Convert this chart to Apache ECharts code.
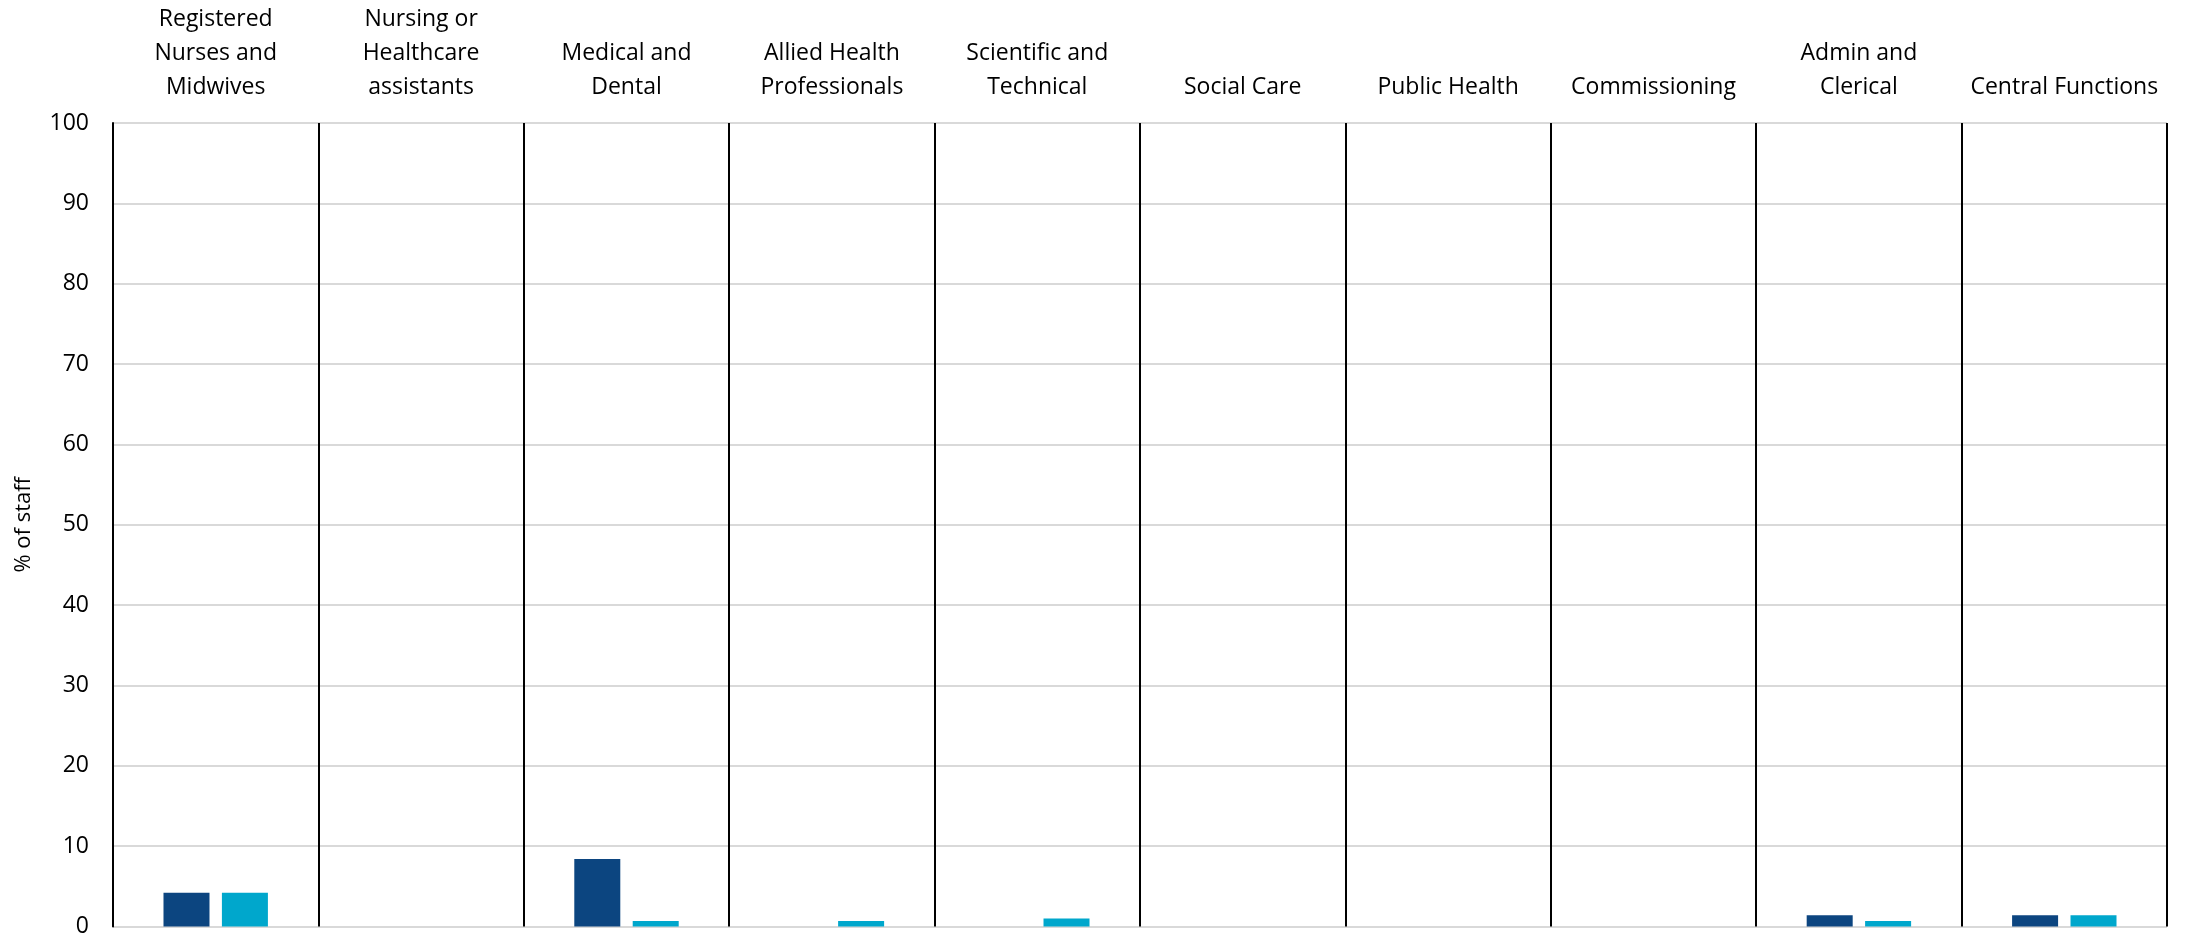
<!DOCTYPE html>
<html>
<head>
<meta charset="utf-8">
<script src="https://cdn.jsdelivr.net/npm/echarts@6/dist/echarts.min.js"></script>
<style>
html,body{margin:0;padding:0;background:#fff;}
#chart{width:2185px;height:938px;}
</style>
</head>
<body>
<div id="chart"></div>
<script>
const categories = [
  'Registered\nNurses and\nMidwives',
  'Nursing or\nHealthcare\nassistants',
  'Medical and\nDental',
  'Allied Health\nProfessionals',
  'Scientific and\nTechnical',
  'Social Care',
  'Public Health',
  'Commissioning',
  'Admin and\nClerical',
  'Central Functions'
];
const seriesDark = [4.2, 0, 8.4, 0, 0, 0, 0, 0, 1.4, 1.4];
const seriesLight = [4.2, 0, 0.7, 0.7, 1.0, 0, 0, 0, 0.7, 1.4];
const yTicks = { min: 0, max: 100, interval: 10 };

const FONT = 'Open Sans';
const chart = echarts.init(document.getElementById('chart'));
chart.setOption({
  animation: false,
  backgroundColor: '#ffffff',
  grid: { left: 113, right: 18, top: 123, bottom: 11, containLabel: false },
  xAxis: {
    type: 'category',
    position: 'top',
    data: categories,
    axisLine: { show: false },
    axisTick: { show: false },
    axisLabel: {
      interval: 0,
      margin: 19,
      fontFamily: FONT,
      fontSize: 23,
      lineHeight: 34,
      color: '#000000',
      align: 'center'
    },
    splitLine: { show: true, interval: 0, lineStyle: { color: '#000000', width: 2 } }
  },
  yAxis: {
    type: 'value',
    min: yTicks.min,
    max: yTicks.max,
    interval: yTicks.interval,
    name: '% of staff',
    nameLocation: 'middle',
    nameGap: 78,
    nameTextStyle: { fontFamily: FONT, fontSize: 22, color: '#000000' },
    axisLine: { show: true, lineStyle: { color: '#000000', width: 2 } },
    axisTick: { show: false },
    axisLabel: { margin: 24, fontFamily: FONT, fontSize: 23, color: '#000000' },
    splitLine: { show: true, lineStyle: { color: '#d9d9d9', width: 2 } }
  },
  series: [
    {
      name: 'Series 1',
      type: 'bar',
      data: seriesDark,
      barWidth: 46,
      barGap: '27%',
      itemStyle: { color: '#0C4580' }
    },
    {
      name: 'Series 2',
      type: 'bar',
      data: seriesLight,
      barWidth: 46,
      barGap: '27%',
      itemStyle: { color: '#00A7CC' }
    }
  ]
});
</script>
</body>
</html>
